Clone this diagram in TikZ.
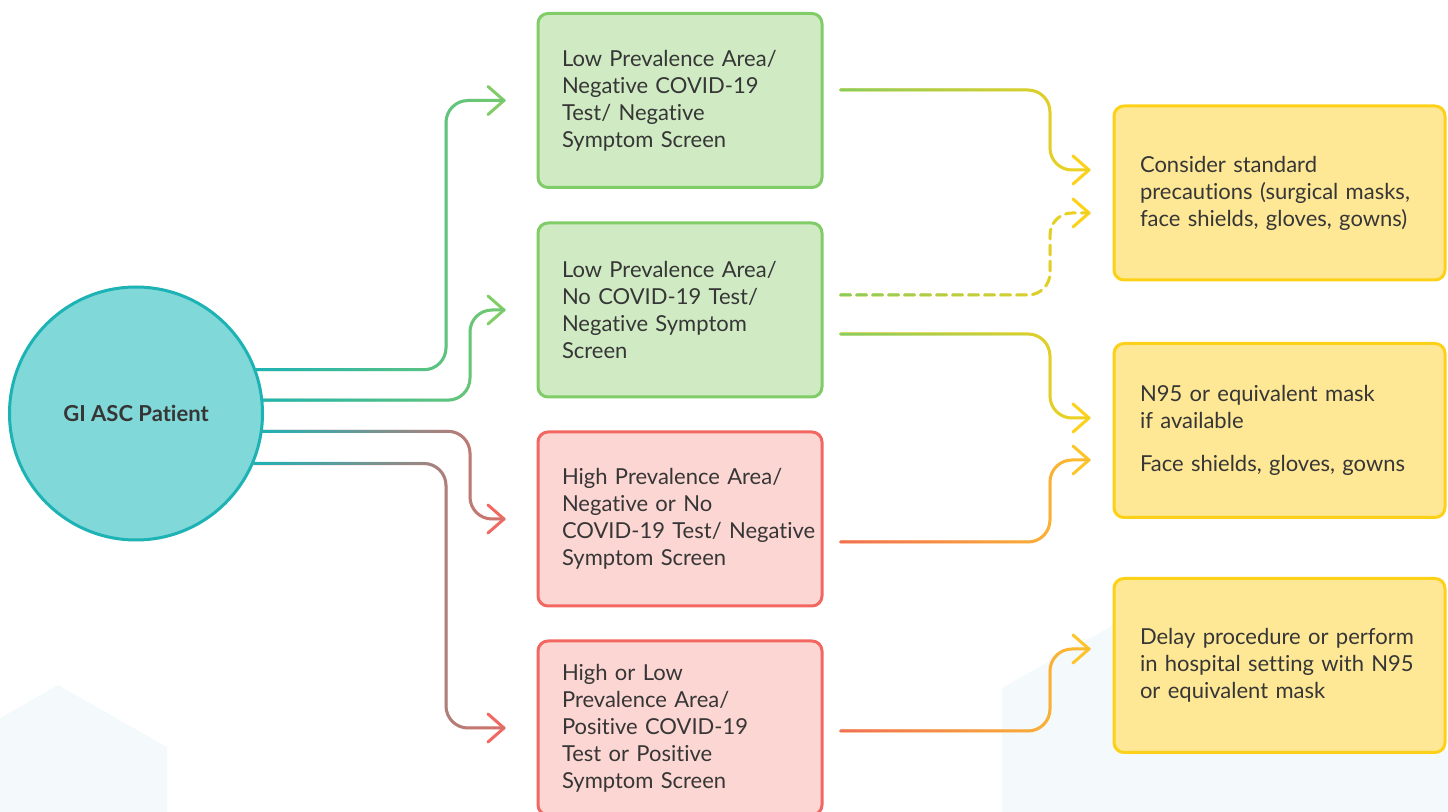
\documentclass[tikz,border=0pt]{standalone}
\usepackage{fontspec}
\setmainfont{Lato}[Ligatures={NoCommon,NoContextual}]
\usetikzlibrary{arrows.meta,positioning,fadings}

\definecolor{txtgray}{HTML}{363636}
\definecolor{tealfill}{HTML}{80D8D9}
\definecolor{tealline}{HTML}{1DB3B5}
\definecolor{greenfill}{HTML}{D0EBC3}
\definecolor{greenline}{HTML}{80CC66}
\definecolor{redfill}{HTML}{FCD6D3}
\definecolor{redline}{HTML}{F26860}
\definecolor{yellowfill}{HTML}{FEE895}
\definecolor{yellowline}{HTML}{FDD118}
\definecolor{orangeline}{HTML}{FDC52A}
\definecolor{hexbg}{HTML}{F4F9FC}

\tikzfading[name=fadeout, left color=transparent!0, right color=transparent!100]

\tikzset{
  box/.style={draw, line width=1.5pt, rounded corners=5pt, minimum width=142pt,
    minimum height=87pt, text width=118pt, inner xsep=12pt, align=left,
    text=txtgray, font=\fontsize{11}{13.5}\selectfont},
  greenbox/.style={box, draw=greenline, fill=greenfill},
  redbox/.style={box, draw=redline, fill=redfill},
  yellowbox/.style={box, draw=yellowline, fill=yellowfill, minimum width=165.5pt,
    text width=139.5pt, inner xsep=13pt},
  conn/.style={line width=1.5pt, rounded corners=11pt, line cap=round,
    -{Straight Barb[length=8pt,width=14pt,round]}},
  startcol/.style={postaction={draw, #1, arrows=-, path fading=fadeout}},
}

\begin{document}
\begin{tikzpicture}[x=0.5pt, y=-0.5pt]
  \useasboundingbox (0,0) rectangle (1448,812);

  % faint hexagons in the background
  \fill[hexbg] (0,718) -- (58,685) -- (167,747) -- (167,812) -- (0,812) -- cycle;
  \fill[hexbg] (1002,812) -- (1002,688) -- (1170,593) -- (1448,750) -- (1448,812) -- cycle;

  \node[circle, draw=tealline, fill=tealfill, line width=1.5pt, minimum size=126.5pt,
    text=txtgray, font=\bfseries\fontsize{11}{13}\selectfont] (patient) at (136,413.5) {GI ASC Patient};

  % middle column
  \node[greenbox] (lowneg) at (680,100.5) {Low Prevalence Area/\\Negative COVID-19\\Test/ Negative\\Symptom Screen};
  \node[greenbox] (lownotest) at (680,310) {Low Prevalence Area/\\No COVID-19 Test/\\Negative Symptom\\Screen};
  \node[redbox] (highneg) at (680,519) {High Prevalence Area/\\Negative or No\\\mbox{COVID-19 Test/ Negative}\\Symptom Screen};
  \node[redbox] (positive) at (680,728) {High or Low\\Prevalence Area/\\Positive COVID-19\\Test or Positive\\Symptom Screen};

  % right column
  \node[yellowbox] (standard) at (1279.5,193) {Consider standard\\\mbox{precautions (surgical masks,}\\face shields, gloves, gowns)};
  \node[yellowbox] (ninetyfive) at (1279.5,430.5) {N95 or equivalent mask\\if available\\[8pt]Face shields, gloves, gowns};
  \node[yellowbox] (delay) at (1279.5,665.5) {Delay procedure or perform\\in hospital setting with N95\\or equivalent mask};

  % patient to middle column
  \draw[conn, greenline, startcol=tealline, shorten >=15.5pt]
    (patient.20) -- (patient.20 -| 446,0) |- (lowneg.west);
  \draw[conn, greenline, startcol=tealline, shorten >=15.5pt]
    (patient.6) -- (patient.6 -| 470,0) |- (lownotest.west);
  \draw[conn, redline, startcol=tealline, shorten >=15.5pt]
    (patient.-8) -- (patient.-8 -| 470,0) |- (highneg.west);
  \draw[conn, redline, startcol=tealline, shorten >=15.5pt]
    (patient.-23) -- (patient.-23 -| 446,0) |- (positive.west);

  % middle column to right column
  \draw[conn, yellowline, startcol=greenline, shorten <=8.5pt, shorten >=11pt]
    (lowneg.east |- 0,90) -| (1050,170) -- (standard.west |- 0,170);
  \draw[conn, yellowline, startcol=greenline, dash pattern=on 5pt off 3pt, shorten <=8.5pt, shorten >=11pt]
    (lownotest.east |- 0,295) -| (1050,213) -- (standard.west |- 0,213);
  \draw[conn, yellowline, startcol=greenline, shorten <=8.5pt, shorten >=11pt]
    (lownotest.east |- 0,334) -| (1050,418) -- (ninetyfive.west |- 0,418);
  \draw[conn, orangeline, startcol=redline, shorten <=8.5pt, shorten >=11pt]
    (highneg.east |- 0,542) -| (1050,460) -- (ninetyfive.west |- 0,460);
  \draw[conn, orangeline, startcol=redline, shorten <=8.5pt, shorten >=11pt]
    (positive.east |- 0,731) -| (1050,649) -- (delay.west |- 0,649);
\end{tikzpicture}
\end{document}
